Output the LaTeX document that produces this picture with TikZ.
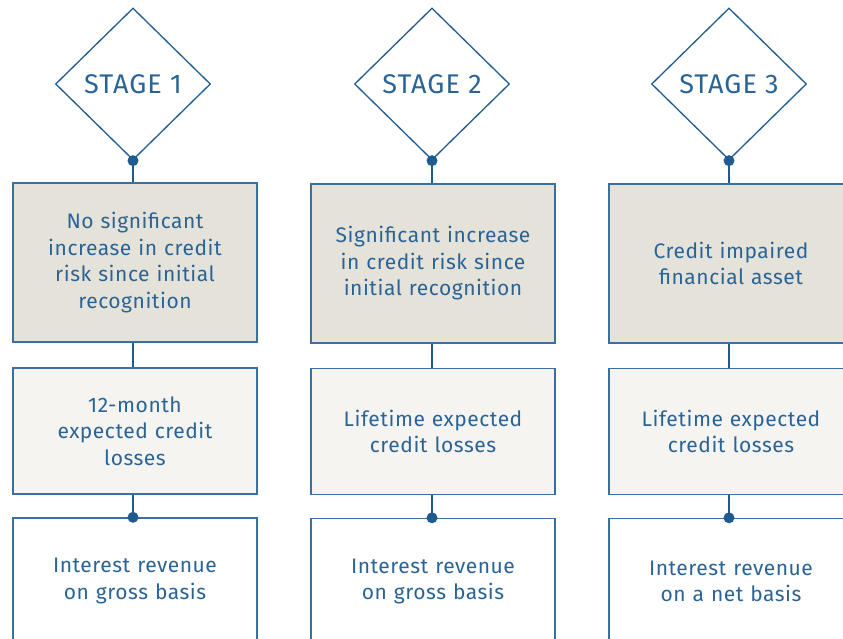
\documentclass[tikz,border=0pt]{standalone}
\usepackage{fontspec}
\setmainfont{Fira Sans}
\newfontfamily\bodyfont[LetterSpace=2.5]{Fira Sans}
\newfontfamily\stagefont[LetterSpace=4]{Fira Sans}
\usetikzlibrary{shapes.geometric}
\definecolor{lineblue}{HTML}{1F5B8E}
\definecolor{boxblue}{HTML}{3A6F9E}
\definecolor{txtblue}{HTML}{2A6496}
\definecolor{fillA}{HTML}{E5E2DA}
\definecolor{fillB}{HTML}{F5F4F0}
\tikzset{
  stagebox/.style={draw=lineblue, line width=1.3pt, fill=white, shape=diamond, minimum width=155pt, minimum height=152pt, inner sep=0pt, text=txtblue, font=\stagefont\fontsize{27}{30}\selectfont},
  box/.style={draw=boxblue, line width=1.4pt, rectangle, minimum width=244pt, text width=236pt, align=center, inner sep=0pt, text=txtblue, font=\bodyfont\fontsize{21}{26.5}\selectfont},
  boxA/.style={box, fill=fillA, minimum height=159pt},
  boxB/.style={box, fill=fillB, minimum height=126pt},
  boxC/.style={box, fill=white, minimum height=126pt},
  conn/.style={draw=lineblue, line width=2.7pt},
  dotc/.style={fill=lineblue, circle, inner sep=0pt, minimum size=11pt}
}
\begin{document}
\begin{tikzpicture}[x=1pt,y=-1pt]
\useasboundingbox (0,0) rectangle (843,638);
\clip (0,0) rectangle (843,638);
% Column 1
\node[stagebox] (d1) at (133,84) {STAGE 1};
\node[boxA] (a1) at (135,262.5) {No significant\\increase in credit\\risk since initial\\recognition};
\node[boxB] (b1) at (135,431) {12-month\\expected credit\\losses};
\node[boxC] (c1) at (135,581) {Interest revenue\\on gross basis};
% Column 2
\node[stagebox] (d2) at (432,84) {STAGE 2};
\node[boxA] (a2) at (433,263.5) {Significant increase\\in credit risk since\\initial recognition};
\node[boxB] (b2) at (433,431.5) {Lifetime expected\\credit losses};
\node[boxC] (c2) at (433,581.5) {Interest revenue\\on gross basis};
% Column 3
\node[stagebox] (d3) at (729,84) {STAGE 3};
\node[boxA] (a3) at (731,263.5) {Credit impaired\\financial asset};
\node[boxB] (b3) at (731,431.5) {Lifetime expected\\credit losses};
\node[boxC] (c3) at (731,581.5) {Interest revenue\\on a net basis};
% connectors
\foreach \i in {1,2,3}{
  \draw[conn] (d\i.south) -- (d\i.south |- a\i.north);
  \draw[conn] (d\i.south |- a\i.south) -- (d\i.south |- b\i.north);
  \draw[conn] (d\i.south |- b\i.south) -- (d\i.south |- c\i.north);
  \node[dotc] (p\i) at (d\i.south) {};
  \node[dotc] (q\i) at (d\i.south |- c\i.north) {};
}
\end{tikzpicture}
\end{document}
